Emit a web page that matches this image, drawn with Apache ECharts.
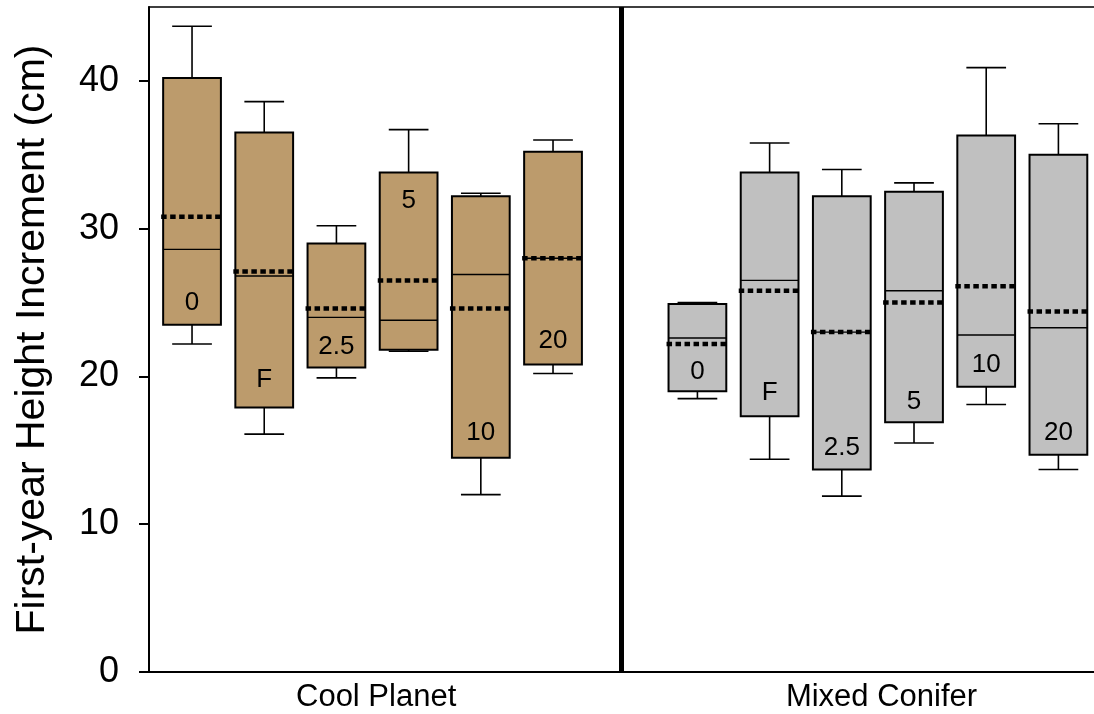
<html>
<head>
    <meta charset='utf-8'/>
    <title>First-year Height Increment</title>
    <style>
        body {
            margin: 0;
            padding: 0;
            background: #fff;
        }

        #chart {
            width: 1094px;
            height: 714px;
        }
    </style>
</head>
<body>
<div id='chart'></div>
<script src="https://cdn.jsdelivr.net/npm/echarts@6/dist/echarts.min.js"></script>
<script type="text/javascript">
    var groups = ['Cool Planet', 'Mixed Conifer'];
    var treatments = ['0', 'F', '2.5', '5', '10', '20'];
    var yTicks = [0, 10, 20, 30, 40];

    // box positions along x (one slot per box, a blank slot between the groups)
    var coolPos = [1, 2, 3, 4, 5, 6];
    var mixedPos = [8, 9, 10, 11, 12, 13];
    var groupLabelPos = [3.55, 10.55];
    var dividerPos = 6.95;

    // Cool Planet
    var coolLow = [22.2, 16.1, 19.9, 21.7, 12.0, 20.2];
    var coolQ1 = [23.5, 17.9, 20.6, 21.8, 14.5, 20.8];
    var coolMedian = [28.6, 26.8, 24.0, 23.8, 26.9, 28.0];
    var coolQ3 = [40.2, 36.5, 29.0, 33.8, 32.2, 35.2];
    var coolHigh = [43.7, 38.6, 30.2, 36.7, 32.4, 36.0];
    var coolMean = [30.8, 27.1, 24.6, 26.5, 24.6, 28.0];
    var coolLabelY = [25.0, 19.8, 22.0, 31.9, 16.2, 22.4];

    // Mixed Conifer
    var mixedLow = [18.5, 14.4, 11.9, 15.5, 18.1, 13.7];
    var mixedQ1 = [19.0, 17.3, 13.7, 16.9, 19.3, 14.7];
    var mixedMedian = [22.6, 26.5, 23.0, 25.8, 22.8, 23.3];
    var mixedQ3 = [24.9, 33.8, 32.2, 32.5, 36.3, 35.0];
    var mixedHigh = [25.0, 35.8, 34.0, 33.1, 40.9, 37.1];
    var mixedMean = [22.2, 25.8, 23.0, 25.0, 26.1, 24.4];
    var mixedLabelY = [20.3, 18.9, 15.2, 18.3, 20.8, 16.2];

    function buildRows(pos, low, q1, med, q3, high, mean, labY) {
        var rows = [];
        for (var i = 0; i < pos.length; i++) {
            rows.push([pos[i], low[i], q1[i], med[i], q3[i], high[i], mean[i], labY[i]]);
        }
        return rows;
    }

    function makeRender(fill) {
        return function (params, api) {
            var x = api.value(0);
            var lo = api.coord([x, api.value(1)]);
            var q1 = api.coord([x, api.value(2)]);
            var med = api.coord([x, api.value(3)]);
            var q3 = api.coord([x, api.value(4)]);
            var hi = api.coord([x, api.value(5)]);
            var mean = api.coord([x, api.value(6)]);
            var lab = api.coord([x, api.value(7)]);
            var half = api.size([0.8, 0])[0] / 2;
            var cap = api.size([0.55, 0])[0] / 2;
            var cx = lo[0];
            var thin = {stroke: '#000', lineWidth: 1.6};
            return {
                type: 'group',
                children: [
                    {type: 'line', shape: {x1: cx, y1: hi[1], x2: cx, y2: q3[1]}, style: thin},
                    {type: 'line', shape: {x1: cx - cap, y1: hi[1], x2: cx + cap, y2: hi[1]}, style: thin},
                    {type: 'line', shape: {x1: cx, y1: q1[1], x2: cx, y2: lo[1]}, style: thin},
                    {type: 'line', shape: {x1: cx - cap, y1: lo[1], x2: cx + cap, y2: lo[1]}, style: thin},
                    {
                        type: 'rect',
                        shape: {x: cx - half, y: q3[1], width: half * 2, height: q1[1] - q3[1]},
                        style: {fill: fill, stroke: '#000', lineWidth: 2}
                    },
                    {
                        type: 'line',
                        shape: {x1: cx - half, y1: med[1], x2: cx + half, y2: med[1]},
                        style: {stroke: '#000', lineWidth: 1.4}
                    },
                    {
                        type: 'line',
                        shape: {x1: cx - half - 2, y1: mean[1], x2: cx + half, y2: mean[1]},
                        style: {stroke: '#000', lineWidth: 4.5, lineDash: [5.5, 3.5]}
                    },
                    {
                        type: 'text',
                        x: cx,
                        y: lab[1],
                        style: {
                            text: treatments[params.dataIndex],
                            fill: '#000',
                            font: '26px "Liberation Sans", Arial, sans-serif',
                            align: 'center',
                            verticalAlign: 'middle'
                        }
                    }
                ]
            };
        };
    }

    var chart = echarts.init(document.getElementById('chart'));

    var option = {
        backgroundColor: '#fff',
        animation: false,
        textStyle: {fontFamily: '"Liberation Sans", Arial, sans-serif'},
        grid: {
            left: 149,
            right: 0,
            top: 7,
            bottom: 42
        },
        xAxis: [{
            type: 'value',
            min: 0.404,
            max: 13.493,
            splitLine: {show: false},
            axisLine: {show: true, onZero: false, lineStyle: {color: '#000', width: 2}},
            axisTick: {show: false},
            axisLabel: {
                customValues: groupLabelPos,
                color: '#000',
                fontSize: 31,
                margin: 10,
                formatter: function (v) {
                    return v < dividerPos ? groups[0] : groups[1];
                }
            }
        }, {
            // top frame line
            type: 'value',
            position: 'top',
            min: 0.404,
            max: 13.493,
            splitLine: {show: false},
            axisLine: {show: true, onZero: false, lineStyle: {color: '#000', width: 1.6}},
            axisTick: {show: false},
            axisLabel: {show: false}
        }],
        yAxis: {
            type: 'value',
            min: 0,
            max: 45,
            interval: 10,
            name: 'First-year Height Increment (cm)',
            nameLocation: 'middle',
            nameGap: 96,
            nameTextStyle: {fontSize: 41, color: '#000'},
            splitLine: {show: false},
            axisLine: {show: true, lineStyle: {color: '#000', width: 2}},
            axisTick: {show: true, length: 10, lineStyle: {color: '#000', width: 2}, customValues: yTicks},
            axisLabel: {color: '#000', fontSize: 36, margin: 30, customValues: yTicks}
        },
        series: [
            {
                name: groups[0],
                type: 'custom',
                renderItem: makeRender('#BC9B6C'),
                data: buildRows(coolPos, coolLow, coolQ1, coolMedian, coolQ3, coolHigh, coolMean, coolLabelY),
                markLine: {
                    silent: true,
                    symbol: 'none',
                    label: {show: false},
                    lineStyle: {color: '#000', width: 5, type: 'solid'},
                    data: [{xAxis: dividerPos}]
                }
            },
            {
                name: groups[1],
                type: 'custom',
                renderItem: makeRender('#C0C0C0'),
                data: buildRows(mixedPos, mixedLow, mixedQ1, mixedMedian, mixedQ3, mixedHigh, mixedMean, mixedLabelY)
            }
        ]
    };
    chart.setOption(option);
</script>
</body>
</html>
